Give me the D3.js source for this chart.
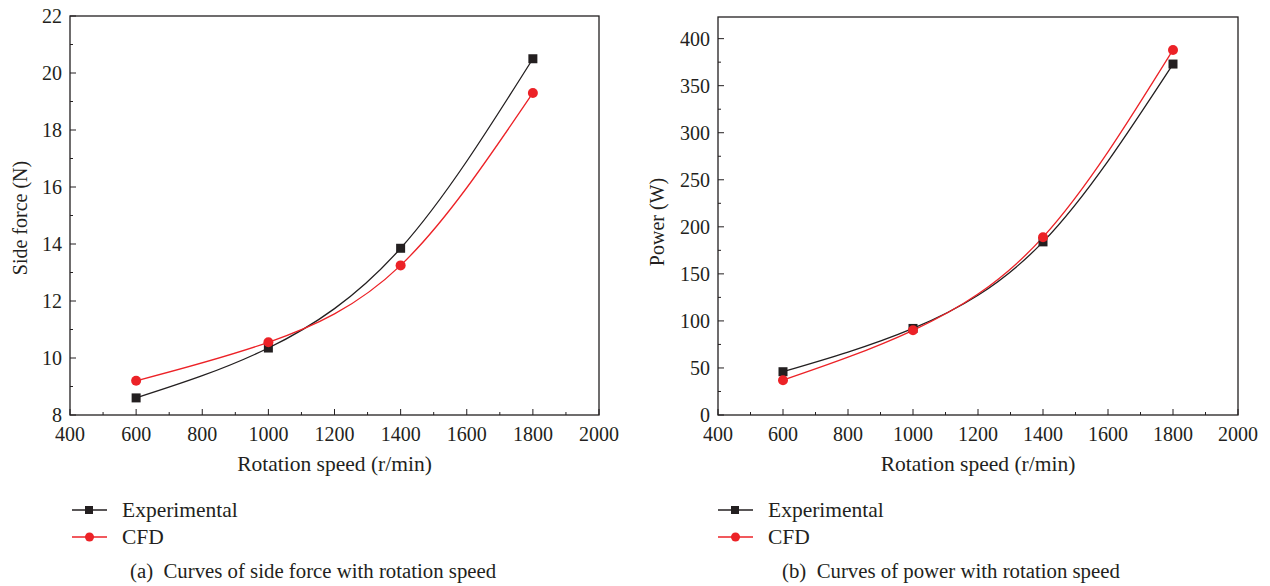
<!DOCTYPE html>
<html>
<head>
<meta charset="utf-8">
<script src="https://cdn.jsdelivr.net/npm/d3@7"></script>
<style>
body { margin: 0; background: #fff; }
text { font-family: "Liberation Serif", "DejaVu Serif", serif; fill: #231f20; }
</style>
</head>
<body>
<svg width="1270" height="586"></svg>
<script>
// shared data
var speeds = [600, 1000, 1400, 1800];
var xTicks = [400, 600, 800, 1000, 1200, 1400, 1600, 1800, 2000];

// (a) side force
var forceExp = [8.6, 10.35, 13.85, 20.5];
var forceCfd = [9.2, 10.55, 13.25, 19.3];
var forceTicks = [8, 10, 12, 14, 16, 18, 20, 22];

// (b) power
var powerExp = [46, 92, 184, 373];
var powerCfd = [37, 90, 189, 388];
var powerTicks = [0, 50, 100, 150, 200, 250, 300, 350, 400];

var black = '#231f20';
var red = '#ec2227';

var svg = d3.select('svg');

function drawPanel(opt) {
    var g = svg.append('g');
    var x = d3.scaleLinear().domain([400, 2000]).range([opt.left, opt.right]);
    var y = d3.scaleLinear().domain(opt.yDomain).range([415, opt.top]);

    //frame
    g.append('rect')
        .attr('x', opt.left).attr('y', opt.top)
        .attr('width', opt.right - opt.left).attr('height', 415 - opt.top)
        .attr('fill', 'none').attr('stroke', black).attr('stroke-width', 1.3);

    //x axis, ticks pointing inside
    var xMinor = d3.range(400, 2001, 100);
    g.selectAll('.xminor').data(xMinor).enter().append('line')
        .attr('x1', function(d){ return x(d); }).attr('x2', function(d){ return x(d); })
        .attr('y1', 415).attr('y2', function(d){ return d % 200 == 0 ? 409 : 412; })
        .attr('stroke', black).attr('stroke-width', 1);
    g.selectAll('.xlab').data(xTicks).enter().append('text')
        .attr('x', function(d){ return x(d); }).attr('y', 441)
        .attr('text-anchor', 'middle').attr('font-size', 20)
        .text(function(d){ return d; });

    //y axis
    var step = opt.yTicks[1] - opt.yTicks[0];
    var yMinor = d3.range(opt.yTicks[0], opt.yDomain[1] + 0.001, step / 2);
    g.selectAll('.yminor').data(yMinor).enter().append('line')
        .attr('y1', function(d){ return y(d); }).attr('y2', function(d){ return y(d); })
        .attr('x1', opt.left).attr('x2', function(d, i){ return i % 2 == 0 ? opt.left + 6 : opt.left + 3; })
        .attr('stroke', black).attr('stroke-width', 1);
    g.selectAll('.ylab').data(opt.yTicks).enter().append('text')
        .attr('x', opt.left - 8).attr('y', function(d){ return y(d) + 7; })
        .attr('text-anchor', 'end').attr('font-size', 20)
        .text(function(d){ return d; });

    //axis titles
    g.append('text')
        .attr('x', (opt.left + opt.right) / 2).attr('y', 471)
        .attr('text-anchor', 'middle').attr('font-size', 21.5)
        .text('Rotation speed (r/min)');
    g.append('text')
        .attr('transform', 'translate(' + opt.yLabelX + ',' + opt.yLabelY + ') rotate(-90)')
        .attr('text-anchor', 'middle').attr('font-size', 20)
        .text(opt.yLabel);

    var line = d3.line()
        .x(function(d){ return x(d[0]); })
        .y(function(d){ return y(d[1]); })
        .curve(d3.curveNatural);

    var exp = d3.zip(speeds, opt.exp);
    var cfd = d3.zip(speeds, opt.cfd);

    g.append('path').datum(exp).attr('d', line)
        .attr('fill', 'none').attr('stroke', black).attr('stroke-width', 1.3);
    g.append('path').datum(cfd).attr('d', line)
        .attr('fill', 'none').attr('stroke', red).attr('stroke-width', 1.3);

    g.selectAll('.sq').data(exp).enter().append('rect')
        .attr('x', function(d){ return x(d[0]) - 4.5; })
        .attr('y', function(d){ return y(d[1]) - 4.5; })
        .attr('width', 9).attr('height', 9).attr('fill', black);
    g.selectAll('.ci').data(cfd).enter().append('circle')
        .attr('cx', function(d){ return x(d[0]); })
        .attr('cy', function(d){ return y(d[1]); })
        .attr('r', 5).attr('fill', red);

    //legend
    var lx = opt.legendX;
    var leg = [
        {name: 'Experimental', color: black, y: 510, shape: 'sq'},
        {name: 'CFD', color: red, y: 537, shape: 'ci'}
    ];
    leg.forEach(function(l){
        g.append('line').attr('x1', lx).attr('x2', lx + 35)
            .attr('y1', l.y).attr('y2', l.y)
            .attr('stroke', l.color).attr('stroke-width', 1.3);
        if (l.shape == 'sq') {
            g.append('rect').attr('x', lx + 13).attr('y', l.y - 4)
                .attr('width', 8).attr('height', 8).attr('fill', l.color);
        } else {
            g.append('circle').attr('cx', lx + 17.5).attr('cy', l.y).attr('r', 4.5).attr('fill', l.color);
        }
        g.append('text').attr('x', lx + 50).attr('y', l.y + 7)
            .attr('font-size', 21.5).text(l.name);
    });

    g.append('text').attr('x', opt.capX).attr('y', 578)
        .attr('font-size', 20.8).attr('xml:space', 'preserve')
        .text(opt.caption);
}

drawPanel({
    left: 70, right: 599, top: 16,
    yDomain: [8, 22], yTicks: forceTicks,
    exp: forceExp, cfd: forceCfd,
    yLabel: 'Side force (N)', yLabelX: 27, yLabelY: 218,
    legendX: 72, capX: 130,
    caption: '(a)  Curves of side force with rotation speed'
});

drawPanel({
    left: 718, right: 1238, top: 17,
    yDomain: [0, 423], yTicks: powerTicks,
    exp: powerExp, cfd: powerCfd,
    yLabel: 'Power (W)', yLabelX: 664, yLabelY: 222,
    legendX: 718, capX: 782,
    caption: '(b)  Curves of power with rotation speed'
});
</script>
</body>
</html>
